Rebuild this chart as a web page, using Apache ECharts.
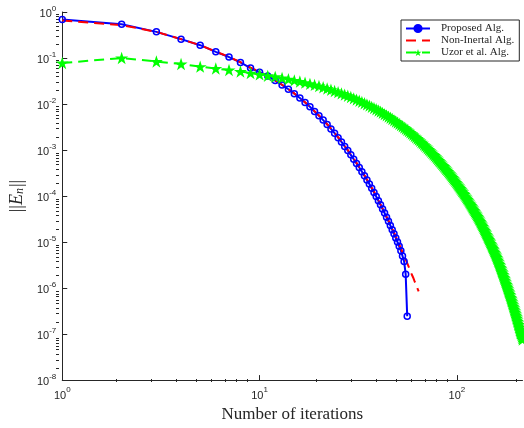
<!DOCTYPE html>
<html>
<head>
<meta charset="utf-8">
<script src="https://cdn.jsdelivr.net/npm/echarts@6/dist/echarts.min.js"></script>
<style>
html, body { margin: 0; padding: 0; background: #fff; }
#chart { width: 524px; height: 428px; }
</style>
</head>
<body>
<div id="chart"></div>
<script>
// error per iteration (iteration = index + 1)
var proposed = [
    0.69, 0.54, 0.37, 0.257, 0.19, 0.136, 0.105, 0.080, 0.0605, 0.049,
    0.0407, 0.0324, 0.026, 0.0209, 0.0168, 0.0135, 0.0108, 0.0087, 0.0069, 0.00556,
    0.00447, 0.00359, 0.00288, 0.00232, 0.00186, 0.0015, 0.0012, 0.00098, 0.000785, 0.00063,
    0.000513, 0.000417, 0.000339, 0.000275, 0.000224, 0.000182, 0.000148, 0.00012, 9.8e-5, 7.9e-5,
    6.5e-5, 5.25e-5, 4.27e-5, 3.47e-5, 2.82e-5, 2.29e-5, 1.86e-5, 1.51e-5, 1.23e-5, 1.0e-5,
    8.1e-6, 6.5e-6, 5.0e-6, 3.8e-6, 2.0e-6, 2.45e-7
];
var nonInertial = [
    0.65, 0.52, 0.37, 0.257, 0.19, 0.138, 0.106, 0.081, 0.0617, 0.050,
    0.0409, 0.0326, 0.0262, 0.0211, 0.017, 0.0136, 0.0109, 0.0088, 0.007, 0.00565,
    0.00455, 0.00366, 0.00294, 0.00237, 0.0019, 0.00153, 0.00123, 0.001, 0.0008, 0.000645,
    0.000525, 0.000427, 0.000347, 0.000282, 0.00023, 0.000187, 0.000152, 0.000124, 0.0001, 8.1e-5,
    6.6e-5, 5.37e-5, 4.37e-5, 3.55e-5, 2.95e-5, 2.40e-5, 1.95e-5, 1.62e-5, 1.32e-5, 1.10e-5,
    8.9e-6, 7.4e-6, 6.0e-6, 5.0e-6, 4.2e-6, 3.5e-6, 2.9e-6, 2.4e-6, 2.0e-6, 1.7e-6,
    1.41e-6, 1.20e-6, 1.0e-6, 8.5e-7
];
var uzor = [
    0.078, 0.100, 0.084, 0.074, 0.065, 0.059, 0.055, 0.051, 0.047, 0.044,
    0.041, 0.039, 0.0367, 0.0347, 0.0327, 0.0309, 0.0292, 0.0275, 0.0260, 0.0246,
    0.0231, 0.0217, 0.0204, 0.0192, 0.0181, 0.0170, 0.0160, 0.0151, 0.0142, 0.0133,
    0.0125, 0.0118, 0.0111, 0.0104, 0.00983, 0.00925, 0.00870, 0.00819, 0.00770, 0.00725,
    0.00682, 0.00641, 0.00603, 0.00568, 0.00534, 0.00503, 0.00473, 0.00445, 0.00418, 0.00394,
    0.00370, 0.00348, 0.00328, 0.00308, 0.00290, 0.00273, 0.00257, 0.00242, 0.00227, 0.00214,
    0.00201, 0.00189, 0.00178, 0.00168, 0.00158, 0.00148, 0.00140, 0.00131, 0.00124, 0.00116,
    0.00109, 0.00103, 0.000968, 0.000910, 0.000856, 0.000806, 0.000758, 0.000713, 0.000671, 0.000631,
    0.000594, 0.000559, 0.000526, 0.000495, 0.000465, 0.000438, 0.000412, 0.000387, 0.000365, 0.000343,
    0.000323, 0.000304, 0.000286, 0.000269, 0.000253, 0.000238, 0.000224, 0.000211, 0.000198, 0.000186,
    0.000175, 0.000165, 0.000155, 0.000146, 0.000137, 0.000129, 0.000122, 0.000114, 0.000108, 1.01e-4,
    9.53e-5, 8.97e-5, 8.44e-5, 7.94e-5, 7.47e-5, 7.02e-5, 6.61e-5, 6.22e-5, 5.85e-5, 5.50e-5,
    5.18e-5, 4.87e-5, 4.58e-5, 4.31e-5, 4.06e-5, 3.82e-5, 3.59e-5, 3.38e-5, 3.18e-5, 2.99e-5,
    2.80e-5, 2.63e-5, 2.46e-5, 2.31e-5, 2.17e-5, 2.03e-5, 1.90e-5, 1.78e-5, 1.67e-5, 1.57e-5,
    1.47e-5, 1.38e-5, 1.29e-5, 1.21e-5, 1.14e-5, 1.07e-5, 9.99e-6, 9.37e-6, 8.78e-6, 8.23e-6,
    7.72e-6, 7.24e-6, 6.79e-6, 6.36e-6, 5.96e-6, 5.59e-6, 5.24e-6, 4.92e-6, 4.61e-6, 4.32e-6,
    4.02e-6, 3.75e-6, 3.49e-6, 3.25e-6, 3.02e-6, 2.82e-6, 2.62e-6, 2.44e-6, 2.27e-6, 2.12e-6,
    1.97e-6, 1.83e-6, 1.71e-6, 1.59e-6, 1.48e-6, 1.38e-6, 1.28e-6, 1.20e-6, 1.11e-6, 1.04e-6,
    9.66e-7, 8.99e-7, 8.37e-7, 7.79e-7, 7.26e-7, 6.76e-7, 6.29e-7, 5.86e-7, 5.45e-7, 5.08e-7,
    4.71e-7, 4.36e-7, 4.04e-7, 3.75e-7, 3.47e-7, 3.22e-7, 2.98e-7, 2.76e-7, 2.56e-7, 2.38e-7,
    2.20e-7, 2.04e-7, 1.89e-7, 1.75e-7, 1.62e-7, 1.51e-7, 1.40e-7, 1.29e-7, 1.20e-7, 1.11e-7,
    1.03e-7, 9.54e-8, 8.84e-8, 8.20e-8, 7.60e-8
];
var seriesNames = ['Proposed Alg.', 'Non-Inertal Alg.', 'Uzor et al. Alg.'];
var xMajor = [1, 10, 100];
var yMajor = [1e-8, 1e-7, 1e-6, 1e-5, 1e-4, 1e-3, 1e-2, 1e-1, 1];

var axisColor = '#262626';
var starPath = 'path://M0,-100L22.45,-30.9L95.1,-30.9L36.3,11.8L58.8,80.9L0,38.2L-58.8,80.9L-36.3,11.8L-95.1,-30.9L-22.45,-30.9Z';

function pairs(arr) {
    return arr.map(function (v, i) { return [i + 1, v]; });
}
// 2..9 inside each decade
function minorTicks(majors, top) {
    var out = [];
    majors.forEach(function (m) {
        for (var k = 2; k <= 9; k++) {
            var v = parseFloat((m * k).toPrecision(6));
            if (v <= top) out.push(v);
        }
    });
    return out;
}
function powLabel(v) {
    var e = Math.round(Math.log10(v));
    return '{b|10}{s|' + e + '}';
}
var powRich = {
    b: { fontSize: 11, fontFamily: 'Liberation Sans', color: axisColor, lineHeight: 15, verticalAlign: 'bottom' },
    s: { fontSize: 8, fontFamily: 'Liberation Sans', color: axisColor, lineHeight: 15, verticalAlign: 'top' }
};

var chart = echarts.init(document.getElementById('chart'));
var grid = { left: 56, top: 12, width: 466.5, height: 370 };

var option = {
    animation: false,
    backgroundColor: '#fff',
    grid: [grid, grid],
    legend: {
        orient: 'vertical',
        left: 401,
        top: 20,
        padding: [3, 5, 3, 4],
        itemGap: 1,
        itemWidth: 24,
        itemHeight: 9,
        backgroundColor: '#fff',
        borderColor: axisColor,
        borderWidth: 1,
        borderRadius: 0,
        textStyle: { fontFamily: 'Liberation Serif', fontSize: 11, color: axisColor, padding: [0, 0, 0, 6] },
        data: [
            { name: seriesNames[0], itemStyle: { color: '#0000ff' } },
            { name: seriesNames[1], itemStyle: { opacity: 0 } },
            { name: seriesNames[2] }
        ]
    },
    xAxis: [
        {
            type: 'log', logBase: 10, min: 1, max: 215, gridIndex: 0, position: 'bottom',
            axisLine: { show: true, onZero: false, lineStyle: { color: axisColor, width: 1 } },
            axisTick: { show: true, inside: true, length: 5, customValues: xMajor, lineStyle: { color: axisColor } },
            axisLabel: { customValues: xMajor, formatter: powLabel, rich: powRich, margin: 6 },
            splitLine: { show: false },
            name: 'Number of iterations', nameLocation: 'middle', nameGap: 20,
            nameTextStyle: { fontFamily: 'Liberation Serif', fontSize: 17, color: axisColor }
        },
        {
            type: 'log', logBase: 10, min: 1, max: 215, gridIndex: 1, position: 'bottom',
            axisLine: { show: false },
            axisTick: { show: true, inside: true, length: 3, customValues: minorTicks(xMajor, 215), lineStyle: { color: axisColor } },
            axisLabel: { show: false },
            splitLine: { show: false }
        }
    ],
    yAxis: [
        {
            type: 'log', logBase: 10, min: 1e-8, max: 1, gridIndex: 0, position: 'left',
            axisLine: { show: true, onZero: false, lineStyle: { color: axisColor, width: 1 } },
            axisTick: { show: true, inside: true, length: 5, customValues: yMajor, lineStyle: { color: axisColor } },
            axisLabel: { customValues: yMajor, formatter: powLabel, rich: powRich, margin: 6 },
            splitLine: { show: false },
            name: '{a|||}{e|E}{n|n}{a|||}', nameLocation: 'middle', nameGap: 32, nameRotate: 90,
            nameTextStyle: {
                rich: {
                    a: { fontFamily: 'Liberation Serif', fontSize: 18, color: axisColor, lineHeight: 20, verticalAlign: 'bottom' },
                    e: { fontFamily: 'Liberation Serif', fontStyle: 'italic', fontSize: 18, color: axisColor, lineHeight: 20, verticalAlign: 'bottom' },
                    n: { fontFamily: 'Liberation Serif', fontStyle: 'italic', fontSize: 12, color: axisColor, lineHeight: 14, verticalAlign: 'bottom', padding: [0, 1, 0, 0] }
                }
            }
        },
        {
            type: 'log', logBase: 10, min: 1e-8, max: 1, gridIndex: 1, position: 'left',
            axisLine: { show: false },
            axisTick: { show: true, inside: true, length: 3, customValues: minorTicks(yMajor.slice(0, 8), 1), lineStyle: { color: axisColor } },
            axisLabel: { show: false },
            splitLine: { show: false }
        }
    ],
    series: [
        {
            name: seriesNames[0], type: 'line', xAxisIndex: 0, yAxisIndex: 0,
            data: pairs(proposed),
            symbol: 'circle', symbolSize: 6,
            lineStyle: { color: '#0000ff', width: 2 },
            itemStyle: { color: 'rgba(0,0,255,0)', borderColor: '#0000ff', borderWidth: 1.5 }
        },
        {
            name: seriesNames[1], type: 'line', xAxisIndex: 0, yAxisIndex: 0,
            data: pairs(nonInertial),
            symbol: 'none',
            lineStyle: { color: '#ff0000', width: 2, type: [10, 6] },
            itemStyle: { color: '#ff0000' }
        },
        {
            name: seriesNames[2], type: 'line', xAxisIndex: 0, yAxisIndex: 0,
            data: pairs(uzor),
            symbol: starPath, symbolSize: 13, symbolKeepAspect: true,
            lineStyle: { color: '#00ff00', width: 2, type: [10, 6] },
            itemStyle: { color: '#00ff00' }
        }
    ]
};
chart.setOption(option);
</script>
</body>
</html>
